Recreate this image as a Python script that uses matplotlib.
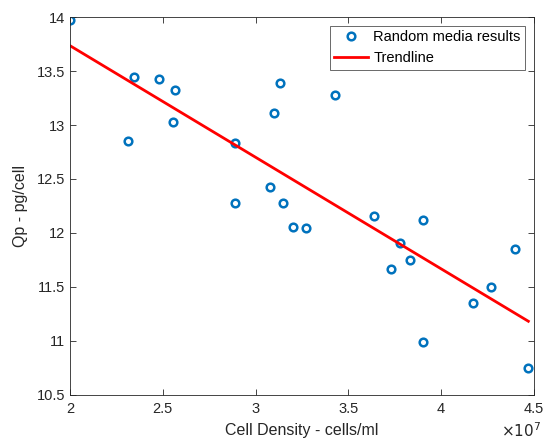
import numpy as np
import matplotlib.pyplot as plt

plt.rcParams['font.family'] = ['Liberation Sans', 'DejaVu Sans']

# cell density in units of 1e7 cells/ml, Qp in pg/cell
density = [2.00, 2.345, 2.48, 2.566, 2.555, 2.31, 2.89, 2.89, 3.13, 3.10,
           3.08, 3.15, 3.20, 3.27, 3.43, 3.64, 3.78, 3.73, 3.83, 3.90,
           3.90, 4.17, 4.27, 4.40, 4.47]
qp = [13.97, 13.44, 13.43, 13.32, 13.03, 12.85, 12.83, 12.28, 13.39, 13.11,
      12.43, 12.28, 12.06, 12.05, 13.28, 12.16, 11.91, 11.67, 11.75, 12.12,
      10.99, 11.35, 11.50, 11.85, 10.75]

xticks = [2, 2.5, 3, 3.5, 4, 4.5]
yticks = [10.5, 11, 11.5, 12, 12.5, 13, 13.5, 14]

x = np.array(density)
y = np.array(qp)
p = np.polyfit(x, y, 1)
xl = np.array([x.min(), x.max()])

fig = plt.figure(figsize=(5.51, 4.43), dpi=100)
ax = fig.add_axes([0.127, 0.1084, 0.842, 0.8532])

ax.plot(x, y, 'o', mfc='none', mec='#0072BD', mew=1.8, ms=5.5,
        label='Random media results')
ax.plot(xl, np.polyval(p, xl), '-', color='#FF0000', lw=2, label='Trendline')

ax.set_xlim(2, 4.5)
ax.set_ylim(10.5, 14)
ax.set_xticks(xticks)
ax.set_xticklabels([f'{t:g}' for t in xticks])
ax.set_yticks(yticks)
ax.set_yticklabels([f'{t:g}' for t in yticks])
ax.tick_params(direction='in', top=True, right=True, labelsize=10.5,
               colors='#262626', length=4, width=0.6)
ax.tick_params(axis='x', pad=5)
for s in ax.spines.values():
    s.set_color('#262626')
    s.set_linewidth(0.6)

ax.set_xlabel('Cell Density - cells/ml', fontsize=11.5, color='#262626', labelpad=5)
ax.set_ylabel('Qp - pg/cell', fontsize=11.5, color='#262626', labelpad=6)
ax.text(1.015, -0.07, r'$\times10^7$', transform=ax.transAxes, ha='right',
        va='top', fontsize=11, color='#262626')

leg = ax.legend(loc='upper right', fontsize=10.5, frameon=True, fancybox=False,
                edgecolor='#262626', borderpad=0.3, handlelength=2.3,
                handletextpad=0.4, labelspacing=0.5, borderaxespad=0.6)
leg.get_frame().set_linewidth(0.6)

fig.savefig('out.png', dpi=100)
